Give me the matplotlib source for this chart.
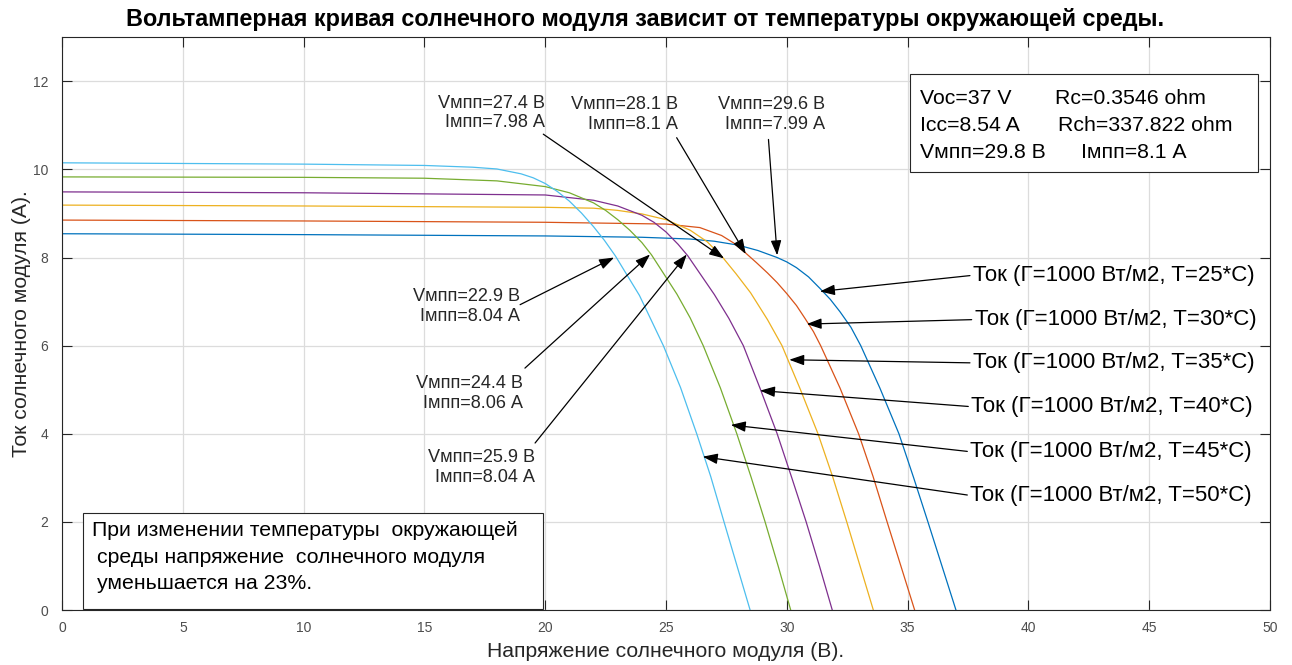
import matplotlib
matplotlib.use('Agg')
from matplotlib import pyplot as plt
from matplotlib.patches import Rectangle

plt.rcParams['font.family'] = ['Liberation Sans', 'DejaVu Sans']

# I-V curves, one per temperature (V in volts, I in amps)
v25 = [0, 10, 20, 24, 26, 27, 28, 28.8, 29.6, 30.0, 30.4, 30.9, 31.37, 31.8, 32.2, 32.65, 33.06,
       33.85, 34.64, 35.25, 35.84, 36.42, 37.0]
i25 = [8.54, 8.52, 8.49, 8.46, 8.42, 8.37, 8.28, 8.16, 8.00, 7.90, 7.77, 7.56, 7.30, 7.05, 6.77, 6.42, 6.00,
       5.04, 4.00, 3.00, 2.00, 1.00, 0.0]

v30 = [0, 10, 20, 25, 26.4, 27.3, 27.8, 28.3, 28.75, 29.2, 29.6, 30.0, 30.4, 30.75, 31.1, 31.4,
       32.2, 32.97, 33.57, 34.15, 34.72, 35.29]
i30 = [8.85, 8.83, 8.80, 8.76, 8.68, 8.50, 8.33, 8.10, 7.88, 7.65, 7.43, 7.18, 6.91, 6.62, 6.32, 6.00,
       5.04, 4.00, 3.03, 2.00, 1.00, 0.0]

v35 = [0, 10, 20, 22, 23, 24, 25, 26, 26.7, 27.35, 27.9, 28.5, 29.2, 29.8, 30.55, 31.29, 31.9,
       32.48, 33.03, 33.58]
i35 = [9.19, 9.17, 9.14, 9.12, 9.07, 8.99, 8.86, 8.62, 8.36, 8.00, 7.63, 7.20, 6.59, 6.00, 5.02, 4.00, 3.02,
       2.00, 1.00, 0.0]

v40 = [0, 10, 20, 22, 23, 24, 24.5, 25, 25.5, 25.9, 26.45, 27.0, 27.6, 28.2, 28.9, 29.6, 30.2,
       30.8, 31.35, 31.88]
i40 = [9.49, 9.47, 9.42, 9.30, 9.17, 8.96, 8.80, 8.58, 8.30, 8.04, 7.60, 7.16, 6.62, 6.00, 5.02, 4.00, 3.01,
       2.00, 1.00, 0.0]

v45 = [0, 10, 15, 18, 20, 21, 22, 22.5, 23, 23.5, 24, 24.4, 25.45, 26.0, 26.54, 27.25, 27.93,
       28.53, 29.1, 29.64, 30.16]
i45 = [9.83, 9.82, 9.80, 9.74, 9.61, 9.47, 9.24, 9.07, 8.86, 8.62, 8.34, 8.06, 7.17, 6.63, 6.00, 5.04, 4.00,
       3.00, 2.00, 1.00, 0.0]

v50 = [0, 10, 15, 17, 18, 19, 19.5, 20, 20.5, 21, 21.5, 22, 22.45, 22.9, 23.9, 24.89, 25.6, 26.27,
       26.85, 27.4, 27.95, 28.48]
i50 = [10.15, 10.12, 10.09, 10.05, 10.01, 9.90, 9.81, 9.68, 9.50, 9.28, 9.01, 8.70, 8.39, 8.04, 7.14, 6.00,
       5.05, 4.00, 3.03, 2.00, 0.98, 0.0]

temps = [25, 30, 35, 40, 45, 50]
colors = ['#0072BD', '#D95319', '#EDB120', '#7E2F8E', '#77AC30', '#4DBEEE']

# maximum power point labels
mpp_labels = ['Vмпп=27.4 В\nIмпп=7.98 А', 'Vмпп=28.1 В\nIмпп=8.1 А', 'Vмпп=29.6 В\nIмпп=7.99 А',
              'Vмпп=22.9 В\nIмпп=8.04 А', 'Vмпп=24.4 В\nIмпп=8.06 А', 'Vмпп=25.9 В\nIмпп=8.04 А']
mpp_tips = [(27.4, 7.98), (28.3, 8.08), (29.6, 8.05), (22.85, 8.0), (24.34, 8.07), (25.86, 8.07)]

fig = plt.figure(figsize=(12.92, 6.65), dpi=100)
ax = fig.add_axes([0.048, 0.0827, 0.935, 0.8613])

curves = [(v25, i25), (v30, i30), (v35, i35), (v40, i40), (v45, i45), (v50, i50)]
for (v, i), c in zip(curves, colors):
    ax.plot(v, i, color=c, lw=0.9)

ax.set_xlim(0, 50)
ax.set_ylim(0, 13)
ax.set_xticks(range(0, 51, 5))
ax.set_yticks(range(0, 13, 2))
ax.grid(True, color='#dcdcdc', lw=0.9)
ax.set_axisbelow(True)
ax.tick_params(direction='in', length=7, top=True, right=True, colors='#262626',
               labelsize=10, labelcolor='#4d4d4d')
ax.tick_params(axis='x', pad=8)
ax.tick_params(axis='y', pad=10)
for s in ax.spines.values():
    s.set_color('#262626')
    s.set_linewidth(0.8)

ax.set_title('Вольтамперная кривая солнечного модуля зависит от температуры окружающей среды.',
             fontsize=16.8, fontweight='bold', pad=8, x=0.483)
ax.set_xlabel('Напряжение солнечного модуля (В).', fontsize=15.2, color='#262626', labelpad=5)
ax.set_ylabel('Ток солнечного модуля (А).', fontsize=15.2, color='#262626', labelpad=1)

arr = dict(arrowstyle='-|>,head_length=0.9,head_width=0.32', color='black', lw=0.9,
           shrinkA=0, shrinkB=0)

# MPP annotations: tails and text blocks
mpp_tails = [(19.92, 10.8), (25.44, 10.72), (29.24, 10.68), (18.96, 6.93), (19.16, 5.49), (19.58, 3.79)]
mpp_text_pos = [(19.99, 11.28), (25.5, 11.25), (31.58, 11.25), (18.96, 6.89), (19.08, 4.91), (19.58, 3.23)]
for lab, tip, tail, pos in zip(mpp_labels, mpp_tips, mpp_tails, mpp_text_pos):
    ax.annotate('', xy=tip, xytext=tail, arrowprops=arr)
    ax.text(pos[0], pos[1], lab, ha='right', va='center', multialignment='right',
            fontsize=13.1, color='#262626')

# curve labels on the right
curve_tips = [(31.37, 7.23), (30.82, 6.49), (30.1, 5.68), (28.89, 4.98), (27.68, 4.2), (26.52, 3.48)]
curve_tails = [(37.58, 7.59), (37.65, 6.59), (37.58, 5.61), (37.51, 4.62), (37.47, 3.6), (37.47, 2.61)]
for t, tip, tail in zip(temps, curve_tips, curve_tails):
    ax.annotate('', xy=tip, xytext=tail, arrowprops=arr)
    ax.text(tail[0] + 0.12, tail[1], 'Ток (Г=1000 Вт/м2, T=%d*C)' % t, ha='left', va='center',
            fontsize=16, color='black')

# parameter box
ax.add_patch(Rectangle((35.1, 9.95), 14.4, 2.21, fill=True, facecolor='white',
                       edgecolor='#262626', lw=0.8, zorder=3))
ax.text(35.51, 11.61, 'Voc=37 V', fontsize=15.3, va='center', zorder=4)
ax.text(41.1, 11.61, 'Rc=0.3546 ohm', fontsize=15.3, va='center', zorder=4)
ax.text(35.51, 11.0, 'Icc=8.54 A', fontsize=15.3, va='center', zorder=4)
ax.text(41.23, 11.0, 'Rch=337.822 ohm', fontsize=15.3, va='center', zorder=4)
ax.text(35.51, 10.38, 'Vмпп=29.8 В', fontsize=15.3, va='center', zorder=4)
ax.text(42.18, 10.38, 'Iмпп=8.1 А', fontsize=15.3, va='center', zorder=4)

# note box
ax.add_patch(Rectangle((0.87, 0.02), 19.03, 2.18, fill=True, facecolor='white',
                       edgecolor='#262626', lw=0.8, zorder=3))
ax.text(1.24, 1.80, 'При изменении температуры  окружающей', fontsize=15.3, va='center', zorder=4)
ax.text(1.45, 1.19, 'среды напряжение  солнечного модуля', fontsize=15.3, va='center', zorder=4)
ax.text(1.45, 0.60, 'уменьшается на 23%.', fontsize=15.3, va='center', zorder=4)

fig.savefig('out.png', dpi=100)
